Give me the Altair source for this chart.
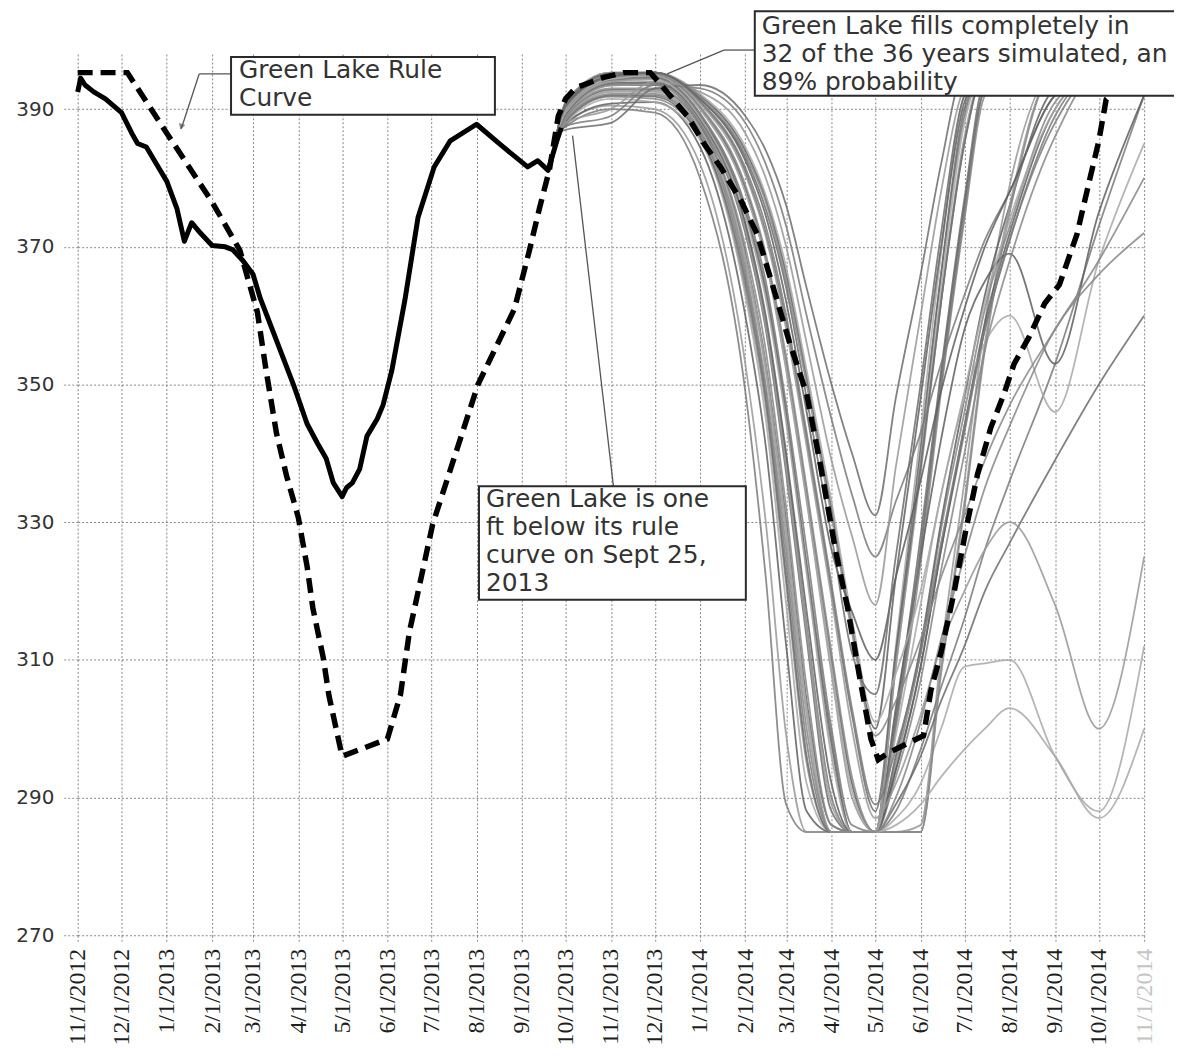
import altair as alt
import pandas as pd

# ---------------- data ----------------
y_ticks = [270, 290, 310, 330, 350, 370, 390]
x_tick_dates = ["2012-11-01", "2012-12-01", "2013-01-01", "2013-02-01", "2013-03-01",
                "2013-04-01", "2013-05-01", "2013-06-01", "2013-07-01", "2013-08-01",
                "2013-09-01", "2013-10-01", "2013-11-01", "2013-12-01", "2014-01-01",
                "2014-02-01", "2014-03-01", "2014-04-01", "2014-05-01", "2014-06-01",
                "2014-07-01", "2014-08-01", "2014-09-01", "2014-10-01", "2014-11-01"]

# observed Green Lake elevation (solid black)
obs_dates = ["2012-11-01", "2012-11-03", "2012-11-06", "2012-11-12", "2012-11-20", "2012-12-01",
             "2012-12-08", "2012-12-12", "2012-12-18", "2012-12-25", "2013-01-01", "2013-01-08",
             "2013-01-13", "2013-01-18", "2013-01-24", "2013-02-01", "2013-02-10", "2013-02-15",
             "2013-02-22", "2013-03-01", "2013-03-06", "2013-03-16", "2013-03-29", "2013-04-07",
             "2013-04-14", "2013-04-20", "2013-04-25", "2013-05-01", "2013-05-04", "2013-05-08",
             "2013-05-13", "2013-05-18", "2013-05-25", "2013-05-29", "2013-06-04", "2013-06-13",
             "2013-06-22", "2013-07-03", "2013-07-14", "2013-08-01", "2013-08-17", "2013-09-05",
             "2013-09-12", "2013-09-19", "2013-09-25", "2013-09-28"]
obs_values = [392.5, 394.5, 393.5, 392.5, 391.5, 389.5,
              386.5, 385.0, 384.5, 382.0, 379.5, 375.5,
              370.8, 373.5, 372.0, 370.2, 370.0, 369.6,
              368.0, 366.0, 362.5, 357.0, 349.8, 344.3,
              341.5, 339.3, 335.7, 333.7, 335.0, 335.7,
              337.7, 342.5, 345.0, 347.0, 352.0, 362.3,
              374.3, 381.6, 385.4, 387.8, 384.9, 381.6,
              382.5, 381.1, 385.4, 387.3]

# Green Lake rule curve (dashed black)
rule_dates = ["2012-11-01", "2012-12-05", "2013-01-01", "2013-02-01", "2013-02-20", "2013-03-04",
              "2013-03-10", "2013-03-17", "2013-03-24", "2013-04-01", "2013-04-07", "2013-04-11",
              "2013-04-18", "2013-04-22", "2013-05-01", "2013-06-01", "2013-06-10", "2013-06-16",
              "2013-07-02", "2013-08-02", "2013-08-27", "2013-09-06", "2013-09-13", "2013-09-20",
              "2013-09-26", "2013-10-01", "2013-10-08", "2013-10-27", "2013-11-10", "2013-11-28",
              "2013-12-05", "2013-12-24", "2014-01-04", "2014-01-15", "2014-01-29", "2014-02-09",
              "2014-02-20", "2014-03-03", "2014-03-15", "2014-03-24", "2014-04-04", "2014-04-12",
              "2014-04-20", "2014-04-28", "2014-05-03", "2014-05-10", "2014-06-03", "2014-06-08",
              "2014-06-15", "2014-06-24", "2014-07-02", "2014-07-10", "2014-07-19", "2014-07-28",
              "2014-08-04", "2014-08-14", "2014-08-25", "2014-09-04", "2014-09-16", "2014-09-25",
              "2014-10-01", "2014-10-06", "2014-10-20", "2014-11-01"]
rule_values = [395.3, 395.3, 386.5, 376.5, 369.5, 360.5,
               352.0, 343.0, 336.7, 330.7, 323.6, 317.5,
               310.4, 304.8, 296.0, 298.5, 305.0, 314.0,
               329.7, 350.0, 361.0, 369.3, 375.5, 381.3,
               389.0, 391.5, 393.1, 394.6, 395.3, 395.3,
               393.6, 388.8, 384.9, 381.6, 376.7, 371.9,
               364.2, 356.3, 348.6, 338.8, 325.6, 317.6,
               307.8, 298.5, 295.5, 296.5, 299.0, 305.5,
               311.1, 319.9, 328.9, 337.0, 343.7, 348.6,
               353.0, 356.8, 361.8, 364.5, 371.8, 380.0,
               385.4, 391.4, 394.5, 395.3]

# simulated traces (36 years of inflow), sampled on these dates
sim_dates = ["2013-09-25", "2013-10-01", "2013-11-01", "2013-12-01", "2014-01-01", "2014-02-01",
             "2014-02-15", "2014-03-01", "2014-03-15", "2014-04-01", "2014-04-15", "2014-05-01",
             "2014-05-15", "2014-06-01", "2014-06-15", "2014-07-01", "2014-07-15", "2014-08-01",
             "2014-09-01", "2014-10-01", "2014-11-01"]
sim_01 = [386.5, 387.5, 390.0, 389.5, 380.0, 349.0, 322.0, 289.0, 285.0, 285.0, 285.0, 285.0, 310.0, 341.0, 366.0, 389.0, 395.3, 395.3, 395.3, 395.3, 395.3]
sim_02 = [386.5, 388.0, 390.5, 390.0, 382.0, 353.0, 330.0, 299.0, 285.0, 285.0, 285.0, 285.0, 285.0, 286.0, 311.0, 336.0, 359.0, 379.0, 395.3, 395.3, 395.3]
sim_03 = [386.5, 387.8, 390.8, 391.0, 384.5, 360.0, 341.0, 312.0, 288.0, 285.0, 285.0, 285.0, 301.0, 326.0, 351.0, 376.0, 393.0, 395.3, 395.3, 395.3, 395.3]
sim_04 = [386.5, 388.0, 391.5, 391.0, 385.5, 363.0, 345.0, 318.0, 292.0, 285.0, 285.0, 285.0, 312.0, 343.0, 369.0, 392.0, 395.3, 395.3, 395.3, 395.3, 395.3]
sim_05 = [386.5, 388.3, 391.8, 391.5, 386.0, 364.0, 347.0, 321.0, 295.0, 285.0, 285.0, 285.0, 295.0, 311.0, 329.0, 346.0, 361.0, 373.0, 391.0, 395.3, 395.3]
sim_06 = [386.5, 388.2, 392.0, 391.8, 386.0, 365.0, 348.0, 322.0, 296.0, 285.0, 285.0, 285.0, 302.0, 328.0, 352.0, 377.0, 394.0, 395.3, 395.3, 395.3, 395.3]
sim_07 = [386.5, 388.5, 392.0, 392.0, 386.5, 366.0, 349.0, 324.0, 298.0, 285.0, 285.0, 285.0, 288.0, 297.0, 306.0, 316.0, 326.0, 336.0, 353.0, 373.0, 392.0]
sim_08 = [386.5, 388.5, 392.5, 392.5, 387.0, 368.0, 352.0, 328.0, 302.0, 285.0, 285.0, 285.0, 309.0, 338.0, 362.0, 385.0, 395.3, 395.3, 395.3, 395.3, 395.3]
sim_09 = [386.5, 388.7, 392.8, 392.8, 387.5, 369.0, 353.0, 330.0, 304.0, 286.0, 285.0, 285.0, 296.0, 312.0, 330.0, 348.0, 363.0, 376.0, 393.0, 395.3, 395.3]
sim_10 = [386.5, 388.6, 392.6, 392.7, 387.2, 368.5, 352.5, 329.0, 303.0, 285.0, 285.0, 285.0, 287.0, 292.0, 300.0, 309.0, 309.5, 310.0, 296.0, 288.0, 312.0]
sim_11 = [386.5, 388.8, 393.0, 393.0, 387.8, 370.0, 355.0, 332.0, 306.0, 286.0, 285.0, 285.0, 300.0, 324.0, 349.0, 374.0, 392.0, 395.3, 395.3, 395.3, 395.3]
sim_12 = [386.5, 389.0, 393.5, 393.5, 388.0, 372.0, 358.0, 337.0, 313.0, 288.0, 285.0, 285.0, 311.0, 340.0, 366.0, 390.0, 395.3, 395.3, 395.3, 395.3, 395.3]
sim_13 = [386.5, 389.2, 393.6, 393.7, 388.3, 373.0, 359.0, 339.0, 315.0, 290.0, 285.0, 285.0, 294.0, 309.0, 326.0, 343.0, 358.0, 371.0, 389.0, 395.3, 395.3]
sim_14 = [386.5, 389.0, 393.4, 393.6, 388.2, 372.5, 358.5, 338.0, 314.0, 289.0, 285.0, 285.0, 285.0, 285.0, 309.0, 333.0, 356.0, 376.0, 395.3, 395.3, 395.3]
sim_15 = [386.5, 389.3, 393.8, 393.9, 388.6, 373.5, 360.0, 340.0, 317.0, 292.0, 285.0, 285.0, 303.0, 325.0, 342.0, 358.0, 365.0, 369.0, 353.0, 375.0, 392.0]
sim_16 = [386.5, 389.5, 394.0, 394.5, 389.0, 375.0, 363.0, 345.0, 323.0, 297.0, 285.0, 285.0, 310.0, 339.0, 364.0, 388.0, 395.3, 395.3, 395.3, 395.3, 395.3]
sim_17 = [386.5, 389.6, 394.1, 394.6, 389.2, 375.5, 364.0, 346.0, 324.0, 299.0, 285.0, 285.0, 293.0, 307.0, 323.0, 340.0, 355.0, 368.0, 386.0, 395.3, 395.3]
sim_18 = [386.5, 389.4, 394.0, 394.4, 389.0, 375.0, 363.5, 345.5, 323.5, 298.0, 285.0, 285.0, 289.0, 296.0, 304.0, 312.0, 320.0, 327.0, 339.0, 350.0, 360.0]
sim_19 = [386.5, 389.8, 394.2, 394.7, 389.4, 376.0, 365.0, 347.0, 326.0, 300.0, 286.0, 285.0, 301.0, 326.0, 350.0, 375.0, 393.0, 395.3, 395.3, 395.3, 395.3]
sim_20 = [386.5, 390.0, 394.5, 395.0, 390.0, 378.0, 368.0, 352.0, 333.0, 308.0, 290.0, 285.0, 309.0, 337.0, 362.0, 386.0, 395.3, 395.3, 395.3, 395.3, 395.3]
sim_21 = [386.5, 390.1, 394.6, 395.0, 390.2, 378.5, 368.5, 353.0, 334.0, 310.0, 292.0, 285.0, 294.0, 309.0, 326.0, 344.0, 359.0, 372.0, 390.0, 395.3, 395.3]
sim_22 = [386.5, 390.0, 394.4, 394.9, 390.0, 378.0, 368.0, 352.5, 333.5, 309.0, 291.0, 285.0, 299.0, 318.0, 334.0, 348.0, 356.0, 360.0, 346.0, 368.0, 385.0]
sim_23 = [386.5, 390.2, 394.7, 395.1, 390.4, 379.0, 369.0, 354.0, 335.0, 311.0, 293.0, 285.0, 285.0, 285.0, 308.0, 332.0, 355.0, 375.0, 395.3, 395.3, 395.3]
sim_24 = [386.5, 390.5, 395.0, 395.3, 391.0, 381.0, 372.0, 359.0, 342.0, 320.0, 302.0, 288.0, 311.0, 338.0, 362.0, 385.0, 395.3, 395.3, 395.3, 395.3, 395.3]
sim_25 = [386.5, 390.6, 395.1, 395.3, 391.2, 381.5, 373.0, 360.0, 343.0, 321.0, 303.0, 289.0, 297.0, 311.0, 327.0, 344.0, 358.0, 371.0, 388.0, 395.3, 395.3]
sim_26 = [386.5, 390.4, 394.9, 395.2, 390.8, 380.5, 371.5, 358.0, 341.0, 319.0, 300.0, 287.0, 292.0, 302.0, 312.0, 320.0, 326.0, 330.0, 318.0, 300.0, 325.0]
sim_27 = [386.5, 391.0, 395.3, 395.3, 392.0, 384.0, 377.0, 366.0, 351.0, 332.0, 315.0, 300.0, 322.0, 348.0, 370.0, 391.0, 395.3, 395.3, 395.3, 395.3, 395.3]
sim_28 = [386.5, 391.0, 395.3, 395.3, 392.2, 384.5, 377.5, 367.0, 352.0, 333.0, 316.0, 301.0, 308.0, 320.0, 334.0, 349.0, 362.0, 374.0, 390.0, 395.3, 395.3]
sim_29 = [386.5, 390.8, 395.2, 395.3, 391.8, 383.5, 376.5, 365.0, 350.0, 331.0, 314.0, 299.0, 304.0, 313.0, 322.0, 331.0, 339.0, 347.0, 358.0, 368.0, 380.0]
sim_30 = [386.5, 387.0, 388.0, 393.0, 393.5, 389.0, 384.0, 376.0, 364.0, 350.0, 340.0, 331.0, 348.0, 366.0, 382.0, 395.3, 395.3, 395.3, 395.3, 395.3, 395.3]
sim_31 = [386.5, 387.5, 389.0, 393.5, 393.0, 388.0, 382.0, 373.0, 360.0, 345.0, 334.0, 325.0, 333.0, 343.0, 353.0, 363.0, 371.0, 378.0, 392.0, 395.3, 395.3]
sim_32 = [386.5, 388.0, 390.0, 394.0, 392.5, 386.5, 380.0, 370.0, 356.0, 339.0, 328.0, 318.0, 338.0, 360.0, 378.0, 393.0, 395.3, 395.3, 395.3, 395.3, 395.3]
sim_33 = [386.5, 390.5, 394.8, 395.3, 391.5, 382.5, 374.5, 362.0, 346.0, 326.0, 317.0, 310.0, 322.0, 336.0, 349.0, 361.0, 370.0, 378.0, 392.0, 395.3, 395.3]
sim_34 = [386.5, 389.5, 394.0, 394.3, 388.8, 374.5, 362.5, 344.5, 322.5, 296.0, 285.0, 285.0, 286.0, 289.0, 293.0, 297.0, 300.0, 303.0, 296.0, 287.0, 300.0]
sim_35 = [386.5, 388.4, 392.2, 392.2, 386.8, 367.0, 350.0, 326.0, 300.0, 285.0, 285.0, 285.0, 290.0, 301.0, 313.0, 325.0, 335.0, 344.0, 358.0, 366.0, 372.0]
sim_36 = [386.5, 390.8, 395.2, 395.3, 391.5, 383.0, 375.5, 364.0, 348.0, 328.0, 311.0, 305.0, 325.0, 350.0, 372.0, 392.0, 395.3, 395.3, 395.3, 395.3, 395.3]

sim_traces = [sim_01, sim_02, sim_03, sim_04, sim_05, sim_06, sim_07, sim_08, sim_09,
              sim_10, sim_11, sim_12, sim_13, sim_14, sim_15, sim_16, sim_17, sim_18,
              sim_19, sim_20, sim_21, sim_22, sim_23, sim_24, sim_25, sim_26, sim_27,
              sim_28, sim_29, sim_30, sim_31, sim_32, sim_33, sim_34, sim_35, sim_36]
trace_grays = ["#7a7a7a", "#989898", "#5f5f5f", "#a8a8a8", "#878787", "#6c6c6c"]

# ---------------- build tables ----------------
def loc(d):
    return d + "T00:00:00"

obs_df = pd.DataFrame({"date": [loc(d) for d in obs_dates], "value": obs_values})
rule_df = pd.DataFrame({"date": [loc(d) for d in rule_dates], "value": rule_values})
rows = []
for i, tr in enumerate(sim_traces):
    for d, v in zip(sim_dates, tr):
        rows.append({"date": loc(d), "value": v, "trace": i + 1,
                     "shade": trace_grays[i % len(trace_grays)]})
sim_df = pd.DataFrame(rows)


def dt(s):
    y, m, d = s.split("-")
    return alt.DateTime(year=int(y), month=int(m), date=int(d))


x_enc = alt.X(
    "date:T",
    title=None,
    scale=alt.Scale(domain=[dt("2012-11-01"), dt("2014-11-01")]),
    axis=alt.Axis(
        values=[dt(s) for s in x_tick_dates],
        format="%-m/%-d/%Y",
        labelAngle=270,
        labelFont="Liberation Serif",
        labelFontSize=24,
        labelColor=alt.expr("datum.value > datetime(2014, 9, 15) ? '#c4c4c4' : '#1e1e1e'"),
        labelPadding=6,
        labelOverlap=False,
        labelFlush=False,
        labelBound=False,
        tickSize=7,
        tickColor="#8c8c8c",
        tickDash=[2, 2],
        grid=True,
        gridColor="#858585",
        gridDash=[2, 2],
        gridWidth=1,
        domain=False,
    ),
)
y_enc = alt.Y(
    "value:Q",
    title=None,
    scale=alt.Scale(domain=[270, 398], nice=False, zero=False),
    axis=alt.Axis(
        values=y_ticks,
        labelFont="DejaVu Sans",
        labelFontSize=20,
        labelColor="#333333",
        labelPadding=8,
        labelOverlap=False,
        tickSize=16,
        tickColor="#8c8c8c",
        tickDash=[2, 2],
        grid=True,
        gridColor="#858585",
        gridDash=[2, 2],
        gridWidth=1,
        domain=False,
    ),
)

sims = alt.Chart(sim_df).mark_line(strokeWidth=1.8, opacity=0.85, interpolate="monotone").encode(
    x=x_enc, y=y_enc, detail="trace:N", color=alt.Color("shade:N", scale=None)
)
rule = alt.Chart(rule_df).mark_line(color="black", strokeWidth=5.5, strokeDash=[15, 8], strokeCap="butt").encode(
    x=x_enc, y=y_enc
)
obs = alt.Chart(obs_df).mark_line(color="black", strokeWidth=5, strokeJoin="round").encode(
    x=x_enc, y=y_enc
)

one = pd.DataFrame({"k": [0]})
ptr_color = "#555555"


def seg(x1, y1, x2, y2):
    return alt.Chart(one).mark_rule(color=ptr_color, strokeWidth=1.3).encode(
        x=alt.value(x1), y=alt.value(y1), x2=alt.value(x2), y2=alt.value(y2))


def box(x1, y1, x2, y2):
    return alt.Chart(one).mark_rect(fill="white", stroke="#2a2a2a", strokeWidth=2).encode(
        x=alt.value(x1), y=alt.value(y1), x2=alt.value(x2), y2=alt.value(y2))


def label(x, y, txt):
    return alt.Chart(one).mark_text(
        align="left", baseline="top", font="DejaVu Sans", fontSize=25,
        lineBreak="\n", lineHeight=28, color="#333333"
    ).encode(x=alt.value(x), y=alt.value(y), text=alt.value(txt))


arrow_head = alt.Chart(one).mark_point(shape="triangle-up", filled=True, size=45,
                                       color=ptr_color, angle=198).encode(
    x=alt.value(104), y=alt.value(73))

layers = [
    sims, rule, obs,
    seg(154, 20, 122, 20), seg(122, 20, 104, 75), arrow_head,
    seg(680, -4, 649, -4), seg(649, -4, 592, 20),
    seg(497, 82, 538, 434),
    box(154, 3, 419, 61), label(162, 4, "Green Lake Rule\nCurve"),
    box(403, 434, 671, 548), label(410, 435, "Green Lake is one\nft below its rule\ncurve on Sept 25,\n2013"),
    box(680, -43, 1115, 42), label(687, -40, "Green Lake fills completely in\n32 of the 36 years simulated, an\n89% probability"),
]

chart = alt.layer(*layers).properties(
    width=1071,
    height=885,
    padding={"left": 70, "top": 44, "right": 30, "bottom": 110},
    autosize=alt.AutoSizeParams(type="none"),
    background="white",
).configure_view(stroke=None)

chart.save("out.html", embed_options={"renderer": "svg", "actions": False})
